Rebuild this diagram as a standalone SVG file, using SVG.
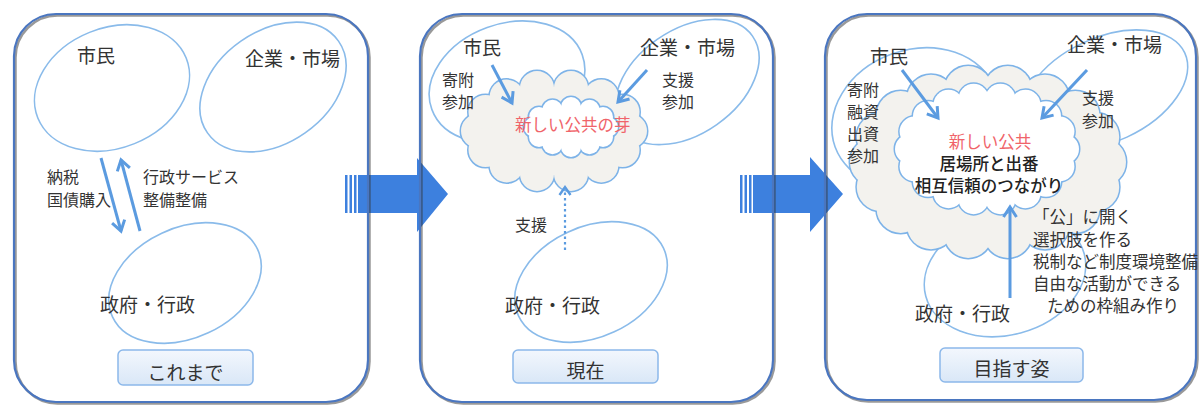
<svg xmlns="http://www.w3.org/2000/svg" xmlns:xlink="http://www.w3.org/1999/xlink" width="1200" height="405" viewBox="0 0 1200 405">
<style>
text{font-family:"Noto Sans CJK JP","Noto Sans",sans-serif;fill:#333}
.t{font-size:19px}
.s{font-size:16px}
.m{font-size:16.5px}
.red{fill:#f0646a}
.b{font-weight:500;fill:#222}
.c{text-anchor:middle}
.panel{fill:none;stroke:#4a76c0;stroke-width:2.2}
.shadow{fill:none;stroke:#333;stroke-width:2.5;opacity:.5}
.ell{fill:none;stroke:#8abbea;stroke-width:1.6}
.cs{stroke:#7db3e8;stroke-width:3;fill:#7db3e8}
.cfg{fill:#f3f2ee;stroke:none}
.cfw{fill:#ffffff;stroke:none}
.arr{fill:none;stroke:#5b9be0;stroke-width:3;marker-end:url(#ah)}
.dot{fill:none;stroke:#5b9be0;stroke-width:2.2;stroke-dasharray:2.5 3;marker-end:url(#ahd)}
.lbl{fill:url(#lg);stroke:#8cb8ea;stroke-width:1.5}
.big{fill:#3d80de}
</style>
<defs>
<linearGradient id="lg" x1="0" y1="0" x2="0" y2="1">
<stop offset="0" stop-color="#f3f7fd"/>
<stop offset="1" stop-color="#d9e7f7"/>
</linearGradient>
<marker id="ah" markerUnits="userSpaceOnUse" markerWidth="16" markerHeight="16" viewBox="0 0 16 16" refX="13" refY="8" orient="auto">
<path d="M3,1.5 L13,8 L3,14.5" fill="none" stroke="#5b9be0" stroke-width="3"/>
</marker>
<marker id="ahd" markerUnits="userSpaceOnUse" markerWidth="14" markerHeight="14" viewBox="0 0 14 14" refX="11" refY="7" orient="auto">
<path d="M3,1.5 L11,7 L3,12.5" fill="none" stroke="#5b9be0" stroke-width="2.4"/>
</marker>
<g id="cA">
<ellipse cx="554" cy="131" rx="76" ry="44"/>
<circle cx="630" cy="131" r="17"/><circle cx="622.5" cy="150.1" r="17"/><circle cx="601.3" cy="165.4" r="17"/><circle cx="571" cy="173.9" r="17"/><circle cx="537" cy="173.9" r="17"/><circle cx="506.7" cy="165.4" r="17"/><circle cx="485.5" cy="150.1" r="17"/><circle cx="478" cy="131" r="17"/><circle cx="485.5" cy="111.9" r="17"/><circle cx="506.7" cy="96.6" r="17"/><circle cx="537" cy="88.1" r="17"/><circle cx="571" cy="88.1" r="17"/><circle cx="601.3" cy="96.6" r="17"/><circle cx="622.5" cy="111.9" r="17"/>
</g>
<g id="cB">
<ellipse cx="571" cy="127" rx="37" ry="20"/>
<circle cx="608" cy="127" r="10"/><circle cx="603" cy="137" r="10"/><circle cx="589.5" cy="144.3" r="10"/><circle cx="571" cy="147" r="10"/><circle cx="552.5" cy="144.3" r="10"/><circle cx="539" cy="137" r="10"/><circle cx="534" cy="127" r="10"/><circle cx="539" cy="117" r="10"/><circle cx="552.5" cy="109.7" r="10"/><circle cx="571" cy="107" r="10"/><circle cx="589.5" cy="109.7" r="10"/><circle cx="603" cy="117" r="10"/>
</g>
<g id="cC">
<ellipse cx="988" cy="162" rx="114" ry="73"/>
<circle cx="1102" cy="162" r="24"/><circle cx="1095.2" cy="187" r="24"/><circle cx="1075.3" cy="208.9" r="24"/><circle cx="1045" cy="225.2" r="24"/><circle cx="1007.8" cy="233.9" r="24"/><circle cx="968.2" cy="233.9" r="24"/><circle cx="931" cy="225.2" r="24"/><circle cx="900.7" cy="208.9" r="24"/><circle cx="880.8" cy="187" r="24"/><circle cx="874" cy="162" r="24"/><circle cx="880.8" cy="137" r="24"/><circle cx="900.7" cy="115.1" r="24"/><circle cx="931" cy="98.8" r="24"/><circle cx="968.2" cy="90.1" r="24"/><circle cx="1007.8" cy="90.1" r="24"/><circle cx="1045" cy="98.8" r="24"/><circle cx="1075.3" cy="115.1" r="24"/><circle cx="1095.2" cy="137" r="24"/>
</g>
<g id="cD">
<ellipse cx="987" cy="149" rx="77" ry="51"/>
<circle cx="1064" cy="149" r="15"/><circle cx="1059.4" cy="166.4" r="15"/><circle cx="1046" cy="181.8" r="15"/><circle cx="1025.5" cy="193.2" r="15"/><circle cx="1000.4" cy="199.2" r="15"/><circle cx="973.6" cy="199.2" r="15"/><circle cx="948.5" cy="193.2" r="15"/><circle cx="928" cy="181.8" r="15"/><circle cx="914.6" cy="166.4" r="15"/><circle cx="910" cy="149" r="15"/><circle cx="914.6" cy="131.6" r="15"/><circle cx="928" cy="116.2" r="15"/><circle cx="948.5" cy="104.8" r="15"/><circle cx="973.6" cy="98.8" r="15"/><circle cx="1000.4" cy="98.8" r="15"/><circle cx="1025.5" cy="104.8" r="15"/><circle cx="1046" cy="116.2" r="15"/><circle cx="1059.4" cy="131.6" r="15"/>
</g>
</defs>
<rect width="1200" height="405" fill="#ffffff"/>

<!-- transition arrows -->
<g id="arrow1">
<rect class="big" x="345" y="175" width="2.5" height="38"/>
<rect class="big" x="349.5" y="175" width="2.5" height="38"/>
<rect class="big" x="354" y="175" width="2.5" height="38"/>
<path class="big" d="M358,175 H417 V158 L448,194 L417,232 V213 H358 Z"/>
</g>
<g id="arrow2">
<rect class="big" x="740" y="175" width="2.5" height="38"/>
<rect class="big" x="744.5" y="175" width="2.5" height="38"/>
<rect class="big" x="749" y="175" width="2.5" height="38"/>
<path class="big" d="M753,175 H810 V157 L843,194 L810,232 V213 H753 Z"/>
</g>

<!-- panel borders -->
<g id="panels">
<rect class="shadow" x="15.5" y="15.5" width="354" height="388" rx="42"/>
<rect class="panel" x="14" y="14" width="354" height="388" rx="42"/>
<rect class="shadow" x="421.5" y="15.5" width="353" height="388" rx="42"/>
<rect class="panel" x="420" y="14" width="353" height="388" rx="42"/>
<rect class="shadow" x="826.5" y="15.5" width="371" height="386" rx="42"/>
<rect class="panel" x="825" y="14" width="371" height="386" rx="42"/>
</g>

<!-- Panel 1 -->
<g id="p1-shimin"><ellipse class="ell" cx="112" cy="88" rx="80" ry="60" transform="rotate(-22 112 88)"/><text class="t" x="77" y="63">市民</text></g>
<g id="p1-kigyo"><ellipse class="ell" cx="273" cy="87" rx="80" ry="56" transform="rotate(-35 273 87)"/><text class="t" x="245" y="66">企業・市場</text></g>
<g id="p1-seifu"><ellipse class="ell" cx="185" cy="283" rx="80" ry="55" transform="rotate(-25 185 283)"/><text class="t" x="100" y="312">政府・行政</text></g>
<g id="p1-labels">
<text class="s" x="47" y="183">納税</text>
<text class="s" x="47" y="206">国債購入</text>
<text class="s" x="143" y="183">行政サービス</text>
<text class="s" x="143" y="206">整備整備</text>
</g>
<g id="p1-tag"><rect class="lbl" x="118" y="350" width="135" height="35" rx="5"/><text class="t c" x="185.5" y="380">これまで</text></g>

<!-- Panel 2 -->
<g id="p2-shimin"><ellipse class="ell" cx="507" cy="82" rx="80" ry="58" transform="rotate(-20 507 82)"/></g>
<g id="p2-kigyo"><ellipse class="ell" cx="687" cy="82" rx="80" ry="52" transform="rotate(-35 687 82)"/></g>
<g id="p2-seifu"><ellipse class="ell" cx="591" cy="282" rx="80" ry="55" transform="rotate(-25 591 282)"/><text class="t" x="505" y="313">政府・行政</text></g>
<g id="p2-cloud">
<use xlink:href="#cA" href="#cA" class="cs"/>
<use xlink:href="#cA" href="#cA" class="cfg"/>
<use xlink:href="#cB" href="#cB" class="cs"/>
<use xlink:href="#cB" href="#cB" class="cfw"/>
<text class="m red" x="515" y="131">新しい公共の芽</text>
</g>
<g id="p2-labels">
<text class="t" x="463" y="55">市民</text>
<text class="t" x="640" y="55">企業・市場</text>
<text class="s" x="442" y="86">寄附</text>
<text class="s" x="442" y="108">参加</text>
<text class="s" x="662" y="86">支援</text>
<text class="s" x="662" y="108">参加</text>
<text class="s" x="515" y="231">支援</text>
</g>
<g id="p2-tag"><rect class="lbl" x="513" y="350" width="145" height="33" rx="5"/><text class="t c" x="585.5" y="378">現在</text></g>

<!-- Panel 3 -->
<g id="p3-shimin"><ellipse class="ell" cx="915" cy="118" rx="85" ry="68" transform="rotate(-20 915 118)"/></g>
<g id="p3-kigyo"><ellipse class="ell" cx="1105" cy="90" rx="88" ry="52" transform="rotate(-25 1105 90)"/></g>
<g id="p3-seifu"><ellipse class="ell" cx="1005" cy="275" rx="82" ry="60" transform="rotate(-15 1005 275)"/></g>
<g id="p3-cloud">
<use xlink:href="#cC" href="#cC" class="cs"/>
<use xlink:href="#cC" href="#cC" class="cfg"/>
<use xlink:href="#cD" href="#cD" class="cs"/>
<use xlink:href="#cD" href="#cD" class="cfw"/>
<text class="m red c" x="990" y="148">新しい公共</text>
<text class="m b c" x="989" y="170">居場所と出番</text>
<text class="m b c" x="989" y="192">相互信頼のつながり</text>
</g>
<g id="p3-labels">
<text class="t" x="870" y="64">市民</text>
<text class="t" x="1067" y="52">企業・市場</text>
<text class="s" x="847" y="96">寄附</text>
<text class="s" x="847" y="118">融資</text>
<text class="s" x="847" y="140">出資</text>
<text class="s" x="847" y="162">参加</text>
<text class="s" x="1082" y="104">支援</text>
<text class="s" x="1082" y="127">参加</text>
<text class="m" x="1033" y="223">「公」に開く</text>
<text class="m" x="1033" y="246">選択肢を作る</text>
<text class="m" x="1033" y="268">税制など制度環境整備</text>
<text class="m" x="1033" y="290">自由な活動ができる</text>
<text class="m" x="1047" y="312">ための枠組み作り</text>
<text class="t" x="915" y="321">政府・行政</text>
</g>
<g id="p3-tag"><rect class="lbl" x="940" y="348" width="143" height="34" rx="5"/><text class="t c" x="1011.5" y="376">目指す姿</text></g>

<!-- connectors -->
<g id="connectors">
<line class="arr" x1="101" y1="158" x2="121" y2="231"/>
<line class="arr" x1="140" y1="231" x2="121" y2="160"/>
<line class="arr" x1="492" y1="65" x2="512" y2="103"/>
<line class="arr" x1="647" y1="70" x2="618" y2="102"/>
<line class="dot" x1="565" y1="250" x2="565" y2="187"/>
<line class="arr" x1="902" y1="70" x2="938" y2="118"/>
<line class="arr" x1="1087" y1="70" x2="1042" y2="118"/>
<line class="arr" x1="1010" y1="298" x2="1010" y2="207"/>
</g>
</svg>
